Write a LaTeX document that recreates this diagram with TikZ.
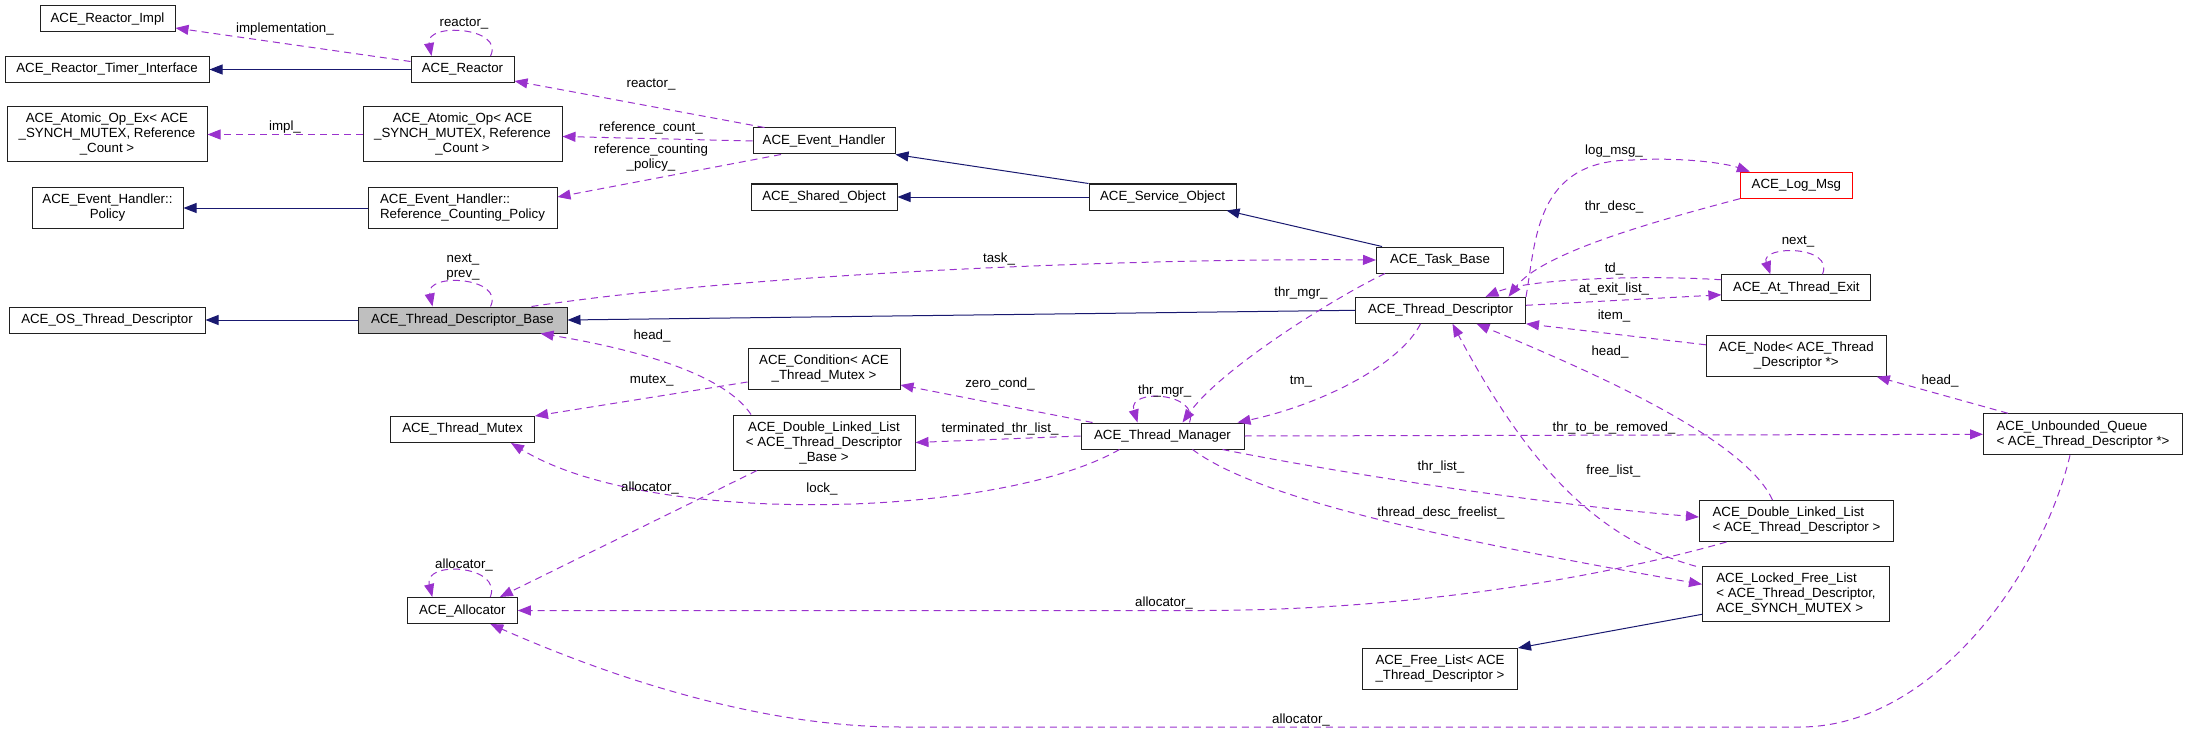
\documentclass[tikz,border=0pt]{standalone}
\usepackage{fontspec}
\setmainfont{Liberation Sans}
\usetikzlibrary{arrows.meta}
\definecolor{orchid}{HTML}{9A32CD}
\definecolor{navy}{HTML}{191970}
\definecolor{basegray}{HTML}{BFBFBF}
\definecolor{border}{HTML}{202020}
\begin{document}
\begin{tikzpicture}[x=1pt,y=-1pt,
        cls/.style={draw=border,line width=1pt,fill=white,inner sep=0pt,align=center,font=\fontsize{13.3}{15}\selectfont},
        row1/.style={minimum height=26pt},
        row2/.style={minimum height=41pt},
        row3/.style={minimum height=55pt},
        lbl/.style={inner sep=0pt,align=center,font=\fontsize{13.3}{15}\selectfont},
        inh/.style={draw=navy,line width=1pt,-{Triangle[length=13pt,width=10pt]}},
        usage/.style={draw=orchid,line width=1pt,dash pattern=on 7pt off 5pt,-{Triangle[length=13pt,width=10pt]}}]
        \useasboundingbox (0,0) rectangle (2188,733);

        \node[cls,row1,minimum width=135pt] (impl) at (107.5,19) {ACE\_Reactor\_Impl};
        \node[cls,row1,minimum width=204pt] (timer) at (107,69.5) {ACE\_Reactor\_Timer\_Interface};
        \node[cls,row1,minimum width=103pt] (reactor) at (462.5,69.5) {ACE\_Reactor};
        \node[cls,row3,minimum width=200pt] (opex) at (107,134.5) {ACE\_Atomic\_Op\_Ex< ACE\\\_SYNCH\_MUTEX, Reference\\\_Count >};
        \node[cls,row3,minimum width=199pt] (aop) at (462.5,134.5) {ACE\_Atomic\_Op< ACE\\\_SYNCH\_MUTEX, Reference\\\_Count >};
        \node[cls,row2,minimum width=151pt] (policy) at (107.5,208) {ACE\_Event\_Handler::\\Policy};
        \node[cls,row2,minimum width=189pt,align=left] (rcp) at (462.5,208) {ACE\_Event\_Handler::\\Reference\_Counting\_Policy};
        \node[cls,row1,minimum width=196pt] (ostd) at (107,320) {ACE\_OS\_Thread\_Descriptor};
        \node[cls,row1,minimum width=209pt,fill=basegray] (base) at (462.5,320) {ACE\_Thread\_Descriptor\_Base};
        \node[cls,row1,minimum width=144pt] (mutex) at (462.5,429.5) {ACE\_Thread\_Mutex};
        \node[cls,row1,minimum width=110pt] (alloc) at (462.3,610.5) {ACE\_Allocator};
        \node[cls,row1,minimum width=142pt] (eh) at (824,141) {ACE\_Event\_Handler};
        \node[cls,row1,minimum width=146pt] (so) at (824,197) {ACE\_Shared\_Object};
        \node[cls,row2,minimum width=152pt] (cond) at (824,369) {ACE\_Condition< ACE\\\_Thread\_Mutex >};
        \node[cls,row3,minimum width=182pt] (dllb) at (824,442.5) {ACE\_Double\_Linked\_List\\< ACE\_Thread\_Descriptor\\\_Base >};
        \node[cls,row1,minimum width=147pt] (svc) at (1162.5,197) {ACE\_Service\_Object};
        \node[cls,row1,minimum width=163pt] (mgr) at (1162.5,436) {ACE\_Thread\_Manager};
        \node[cls,row1,minimum width=127pt] (task) at (1440,260) {ACE\_Task\_Base};
        \node[cls,row1,minimum width=170pt] (td) at (1440.5,310.3) {ACE\_Thread\_Descriptor};
        \node[cls,row2,minimum width=155pt] (fl) at (1440,669) {ACE\_Free\_List< ACE\\\_Thread\_Descriptor >};
        \node[cls,row1,minimum width=112pt,draw=red] (logmsg) at (1796.4,185.2) {ACE\_Log\_Msg};
        \node[cls,row1,minimum width=149pt] (ate) at (1796.4,287.8) {ACE\_At\_Thread\_Exit};
        \node[cls,row2,minimum width=180pt] (tdnode) at (1796.3,355.8) {ACE\_Node< ACE\_Thread\\\_Descriptor *>};
        \node[cls,row2,minimum width=194pt,align=left] (dllt) at (1796.5,521) {ACE\_Double\_Linked\_List\\< ACE\_Thread\_Descriptor >};
        \node[cls,row3,minimum width=187pt,align=left] (lfl) at (1796,594.3) {ACE\_Locked\_Free\_List\\< ACE\_Thread\_Descriptor,\\ACE\_SYNCH\_MUTEX >};
        \node[cls,row2,minimum width=199pt,align=left] (queue) at (2083,434.3) {ACE\_Unbounded\_Queue\\< ACE\_Thread\_Descriptor *>};

        \draw[inh] (reactor.west) -- (timer.east);
        \draw[inh] (rcp.west) -- (policy.east);
        \draw[inh] (svc.north west) -- (eh.south east);
        \draw[inh] (svc.west) -- (so.east);
        \draw[inh] ([xshift=6pt]task.north west) -- ([xshift=-10pt]svc.south east);
        \draw[inh] (base.west) -- (ostd.east);
        \draw[inh] (td.west) -- (base.east);
        \draw[inh] ([yshift=-20pt]lfl.west) -- (fl.north east);

        \draw[usage] ([yshift=8pt]reactor.west) -- ([yshift=-9pt]impl.east);
        \draw[usage] ([xshift=28pt]reactor.north) .. controls (505,27) and (425,22) .. ([xshift=-31pt]reactor.north);
        \draw[usage] ([xshift=12pt]eh.north west) -- ([yshift=2pt]reactor.south east);
        \draw[usage] (aop.west) -- (opex.east);
        \draw[usage] (eh.west) -- ([yshift=-2pt]aop.east);
        \draw[usage] ([xshift=-43pt]eh.south) -- ([yshift=11pt]rcp.east);
        \draw[usage] ([xshift=28pt]base.north) .. controls (505,277) and (425,272) .. ([xshift=-30pt]base.north);
        \draw[usage] ([xshift=-36pt]base.north east) .. controls (760,272) and (1150,258) .. (task.west);
        \draw[usage] ([xshift=-73pt]dllb.north) .. controls (725,375) and (640,350) .. ([xshift=-27pt]base.south east);
        \draw[usage] ([yshift=-13pt]cond.west) -- (mutex.north east);
        \draw[usage] ([xshift=12pt]mgr.north west) -- ([yshift=-16pt]cond.east);
        \draw[usage] ([xshift=27pt]mgr.north) .. controls (1200,392) and (1127,388) .. ([xshift=-25pt]mgr.north);
        \draw[usage] ([xshift=-55pt]task.south) .. controls (1330,300) and (1220,370) .. ([xshift=20pt]mgr.north);
        \draw[usage] ([xshift=-20pt]td.south) .. controls (1400,365) and (1320,405) .. ([xshift=-7pt]mgr.north east);
        \draw[usage] (mgr.west) -- (dllb.east);
        \draw[usage] ([xshift=-43pt]mgr.south) .. controls (1000,518) and (650,528) .. ([xshift=-24pt]mutex.south east);
        \draw[usage] ([xshift=-67pt]dllb.south) -- ([xshift=-18pt]alloc.north east);
        \draw[usage] ([xshift=28pt]alloc.north) .. controls (503,565) and (423,560) .. ([xshift=-30pt]alloc.north);
        \draw[usage] (mgr.east) -- (queue.west);
        \draw[usage] ([xshift=60pt]mgr.south) .. controls (1350,475) and (1550,505) .. ([yshift=4pt]dllt.west);
        \draw[usage] ([xshift=30pt]mgr.south) .. controls (1260,500) and (1450,540) .. ([yshift=10pt]lfl.west);
        \draw[usage] ([xshift=-24pt]dllt.north) .. controls (1745,440) and (1600,375) .. ([xshift=36pt]td.south);
        \draw[usage] ([xshift=-100pt]lfl.north) .. controls (1600,540) and (1530,470) .. ([xshift=12pt]td.south);
        \draw[usage] ([xshift=-70pt]dllt.south) .. controls (1610,575) and (1420,610.5) .. (1200,610.5) -- (alloc.east);
        \draw[usage] ([xshift=-13pt]queue.south) .. controls (2040,580) and (1930,727) .. (1800,727) -- (900,727) .. controls (780,727) and (640,690) .. ([xshift=28pt]alloc.south);
        \draw[usage] ([xshift=-75pt]queue.north) -- ([xshift=-10pt]tdnode.south east);
        \draw[usage] ([yshift=11pt]tdnode.west) -- (td.south east);
        \draw[usage] ([yshift=8pt]ate.west) .. controls (1650,275) and (1530,278) .. ([xshift=45pt]td.north);
        \draw[usage] ([yshift=5pt]td.east) -- ([yshift=-7pt]ate.west);
        \draw[usage] ([xshift=26pt]ate.north) .. controls (1835,245) and (1760,245) .. ([xshift=-26pt]ate.north);
        \draw[usage] (logmsg.south west) .. controls (1640,225) and (1540,255) .. ([xshift=68pt]td.north);
        \draw[usage] (td.north east) .. controls (1536,240) and (1535,160) .. (1633,160) .. controls (1680,157) and (1725,163) .. ([xshift=10pt]logmsg.north west);

        \node[lbl] (limpl) at (285,29) {implementation\_};
        \node[lbl] (lreactorself) at (464,24) {reactor\_};
        \node[lbl] (lreactor) at (651,85) {reactor\_};
        \node[lbl] (lopex) at (285,127) {impl\_};
        \node[lbl] (lrefcount) at (651,128) {reference\_count\_};
        \node[lbl] (lrefpolicy) at (651,158) {reference\_counting\\\_policy\_};
        \node[lbl] (lnextprev) at (463,267.5) {next\_\\prev\_};
        \node[lbl] (ltask) at (999,258.7) {task\_};
        \node[lbl] (lheadbase) at (652,336) {head\_};
        \node[lbl] (lmutex) at (651.8,380.7) {mutex\_};
        \node[lbl] (lzerocond) at (1000,384) {zero\_cond\_};
        \node[lbl] (lmgrself) at (1164.7,391) {thr\_mgr\_};
        \node[lbl] (lmgrtask) at (1301,293) {thr\_mgr\_};
        \node[lbl] (ltm) at (1301,381.5) {tm\_};
        \node[lbl] (lterminated) at (1000,429) {terminated\_thr\_list\_};
        \node[lbl] (llock) at (822,489) {lock\_};
        \node[lbl] (lallocdllb) at (650,487.5) {allocator\_};
        \node[lbl] (lallocself) at (464,565) {allocator\_};
        \node[lbl] (lallocdllt) at (1164,603) {allocator\_};
        \node[lbl] (lallocqueue) at (1301,720) {allocator\_};
        \node[lbl] (lremoved) at (1614,427.7) {thr\_to\_be\_removed\_};
        \node[lbl] (lthrlist) at (1441,466.7) {thr\_list\_};
        \node[lbl] (lfreelist) at (1441,512.7) {thread\_desc\_freelist\_};
        \node[lbl] (lfree) at (1613.4,470.7) {free\_list\_};
        \node[lbl] (lheadtd) at (1610,351.7) {head\_};
        \node[lbl] (lheadnode) at (1940,381) {head\_};
        \node[lbl] (litem) at (1614,316) {item\_};
        \node[lbl] (ltd) at (1614,269) {td\_};
        \node[lbl] (latexit) at (1614,289) {at\_exit\_list\_};
        \node[lbl] (lnext) at (1798,242) {next\_};
        \node[lbl] (lthrdesc) at (1614,207) {thr\_desc\_};
        \node[lbl] (llogmsg) at (1614,151) {log\_msg\_};
    \end{tikzpicture}
\end{document}
